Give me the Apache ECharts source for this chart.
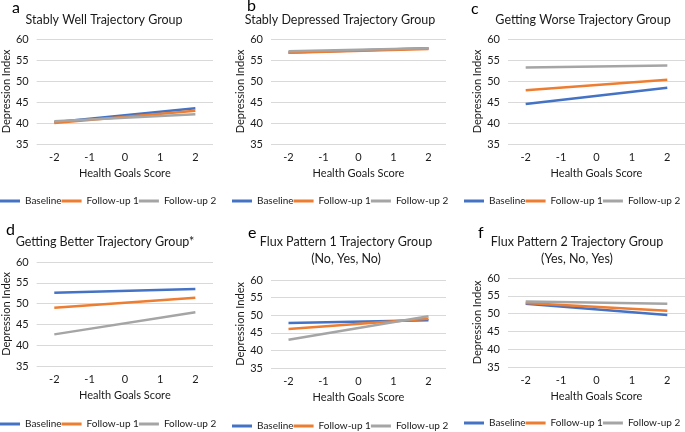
<!DOCTYPE html>
<html>
<head>
<meta charset="utf-8">
<script src="https://cdn.jsdelivr.net/npm/echarts@6/dist/echarts.min.js"></script>
<style>
  html, body { margin: 0; padding: 0; background: #fff; }
  #chart { width: 685px; height: 432px; }
</style>
</head>
<body>
<div id="chart"></div>
<script>
// health goals score categories (x axis)
var healthGoals = ['-2', '-1', '0', '1', '2'];
var seriesNames = ['Baseline', 'Follow-up 1', 'Follow-up 2'];
var panelLetters = ['a', 'b', 'c', 'd', 'e', 'f'];
var panelTitles = [
  'Stably Well Trajectory Group',
  'Stably Depressed Trajectory Group',
  'Getting Worse Trajectory Group',
  'Getting Better Trajectory Group*',
  'Flux Pattern 1 Trajectory Group\n(No, Yes, No)',
  'Flux Pattern 2 Trajectory Group\n(Yes, No, Yes)'
];

// depression index, read at score -2 and 2 (straight lines between them)
var baseline = [
  [40.2, null, null, null, 43.5],
  [56.8, null, null, null, 57.8],
  [44.5, null, null, null, 48.4],
  [52.6, null, null, null, 53.5],
  [47.8, null, null, null, 48.6],
  [52.8, null, null, null, 49.6]
];
var followUp1 = [
  [40.0, null, null, null, 42.9],
  [56.7, null, null, null, 57.6],
  [47.8, null, null, null, 50.3],
  [49.0, null, null, null, 51.4],
  [46.1, null, null, null, 49.0],
  [53.0, null, null, null, 50.8]
];
var followUp2 = [
  [40.4, null, null, null, 42.1],
  [57.1, null, null, null, 57.8],
  [53.2, null, null, null, 53.7],
  [42.6, null, null, null, 47.9],
  [43.0, null, null, null, 49.7],
  [53.4, null, null, null, 52.8]
];

var colors = ['#4472C4', '#ED7D31', '#A5A5A5'];
var font = 'Lato';
var textColor = '#1a1a1a';

// panel layout
var grids = [
  {left: 35, top: 39, width: 178, height: 105},
  {left: 271, top: 39, width: 175, height: 105},
  {left: 508, top: 39, width: 177, height: 105},
  {left: 35, top: 262, width: 178, height: 104},
  {left: 271, top: 280, width: 175, height: 88},
  {left: 508, top: 278, width: 177, height: 89}
];
var letterPos = [[12, 8], [247, 6], [471, 9], [6, 230], [248, 233], [478, 233]];
var titlePos = [[104, 20], [340, 20], [583, 20], [105, 242], [346, 250], [577, 250]];
var legendPos = [[0, 202], [232, 202], [464, 202], [0, 425], [232, 427], [464, 424]];

var titles = [];
var xAxes = [];
var yAxes = [];
var legends = [];
var series = [];
var allData = [baseline, followUp1, followUp2];

for (var p = 0; p < 6; p++) {
  titles.push({
    text: panelLetters[p], left: letterPos[p][0], top: letterPos[p][1], padding: 0,
    textVerticalAlign: 'middle',
    textStyle: {fontFamily: font, fontSize: 16, fontWeight: 'normal', color: '#000'}
  });
  titles.push({
    text: panelTitles[p], left: titlePos[p][0], top: titlePos[p][1], padding: 0,
    textAlign: 'center', textVerticalAlign: 'middle',
    textStyle: {fontFamily: font, fontSize: 12.5, fontWeight: 'normal', color: textColor, lineHeight: 17}
  });
  xAxes.push({
    type: 'category', gridIndex: p, data: healthGoals, boundaryGap: true,
    name: 'Health Goals Score', nameLocation: 'middle', nameGap: 24,
    nameTextStyle: {fontFamily: font, fontSize: 11, color: textColor},
    axisLine: {show: false}, axisTick: {show: false},
    axisLabel: {fontFamily: font, fontSize: 11, color: textColor, margin: 8}
  });
  yAxes.push({
    type: 'value', gridIndex: p, min: 35, max: 60, interval: 5,
    name: 'Depression Index', nameLocation: 'middle', nameGap: 22,
    nameTextStyle: {fontFamily: font, fontSize: 11, color: textColor},
    axisLine: {show: false}, axisTick: {show: false},
    axisLabel: {fontFamily: font, fontSize: 11, color: textColor, margin: 8},
    splitLine: {lineStyle: {color: '#D9D9D9', width: 1}}
  });
  legends.push({
    data: seriesNames, left: legendPos[p][0], top: legendPos[p][1] - 6,
    width: 300, orient: 'horizontal', padding: 0, itemGap: 0,
    icon: 'rect', itemWidth: 20, itemHeight: 3,
    selectedMode: false,
    textStyle: {fontFamily: font, fontSize: 10, color: textColor}
  });
  for (var s = 0; s < 3; s++) {
    series.push({
      name: seriesNames[s], type: 'line', xAxisIndex: p, yAxisIndex: p,
      data: allData[s][p], connectNulls: true, showSymbol: false, symbol: 'none',
      lineStyle: {color: colors[s], width: 2.5}, itemStyle: {color: colors[s]},
      silent: true
    });
  }
}

var myChart = echarts.init(document.getElementById('chart'));
myChart.setOption({
  animation: false,
  color: colors,
  title: titles,
  grid: grids,
  xAxis: xAxes,
  yAxis: yAxes,
  legend: legends,
  series: series
});
</script>
</body>
</html>
